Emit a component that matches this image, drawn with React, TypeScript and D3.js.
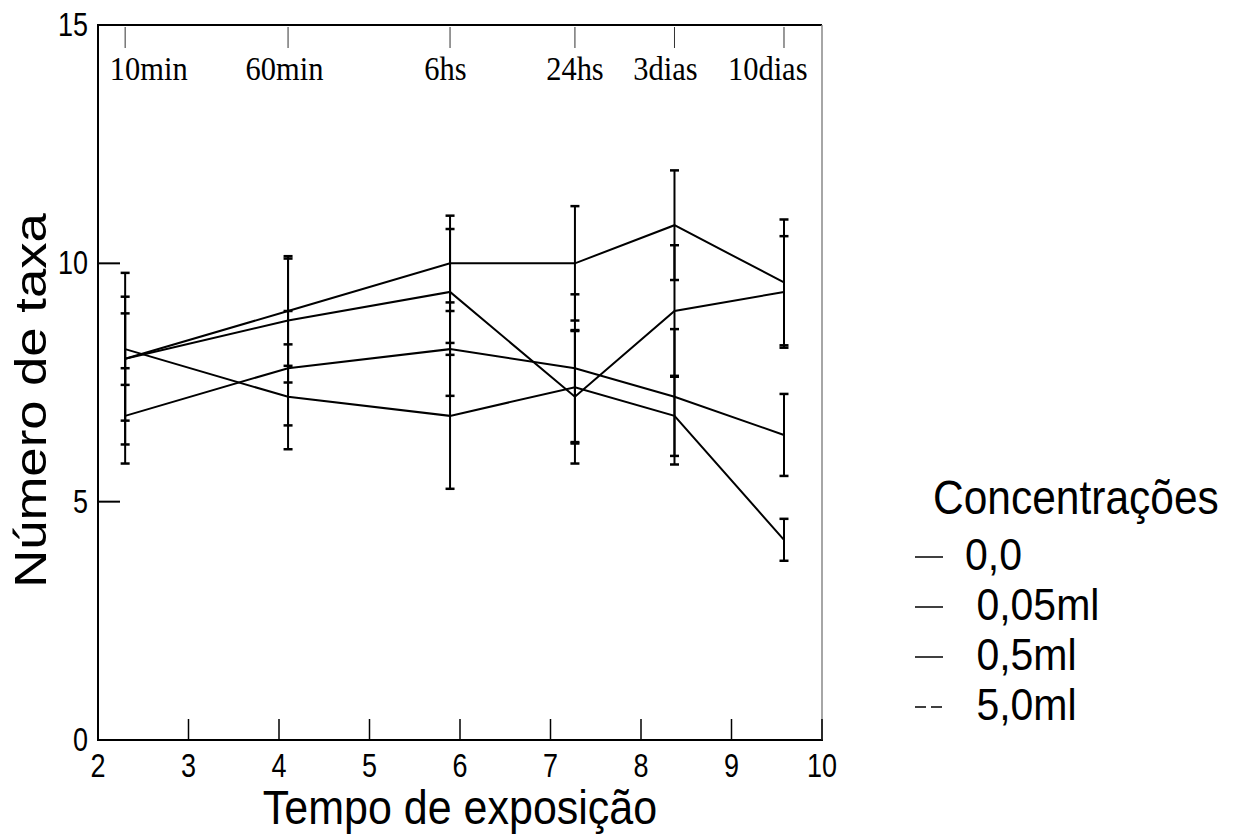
import React from 'react';
import * as d3 from 'd3';

// exposure times (x is log of minutes)
const timeLabels = ['10min', '60min', '6hs', '24hs', '3dias', '10dias'];
const timeX = [2.3, 4.1, 5.89, 7.27, 8.37, 9.58];
const timeLabelX = [2.56, 4.06, 5.84, 7.27, 8.27, 9.4];

const seriesNames = ['0,0', ' 0,05ml', ' 0,5ml', ' 5,0ml'];
const meanA = [8.0, 9.0, 10.0, 10.0, 10.8, 9.6];
const errA = [1.3, 1.15, 1.0, 1.2, 1.15, 1.32];
const meanB = [8.0, 8.8, 9.4, 7.2, 9.0, 9.4];
const errB = [1.8, 1.3, 1.32, 1.4, 1.38, 1.17];
const meanC = [6.8, 7.8, 8.2, 7.8, 7.2, 6.4];
const errC = [1.0, 1.2, 0.98, 1.55, 1.42, 0.86];
const meanD = [8.2, 7.2, 6.8, 7.4, 6.8, 4.2];
const errD = [0.75, 1.1, 1.53, 1.18, 0.84, 0.44];

const xTicks = [2, 3, 4, 5, 6, 7, 8, 9, 10];
const yTicks = [0, 5, 10, 15];

const W = 1234;
const H = 837;
const left = 98;
const right = 822;
const top = 25;
const bottom = 740;
const sans = '"Liberation Sans", Arial, sans-serif';
const serif = '"Liberation Serif", "Times New Roman", serif';

const Stretch = ({ x, y, k, children, ...rest }: any) => (
  <text transform={`translate(${x},${y}) scale(1,${k})`} {...rest}>
    {children}
  </text>
);

export default function App() {
  const x = d3.scaleLinear().domain([2, 10]).range([left, right]);
  const y = d3.scaleLinear().domain([0, 15]).range([bottom, top]);

  const series = [
    { name: seriesNames[0], mean: meanA, err: errA, dash: null },
    { name: seriesNames[1], mean: meanB, err: errB, dash: null },
    { name: seriesNames[2], mean: meanC, err: errC, dash: null },
    { name: seriesNames[3], mean: meanD, err: errD, dash: '11,5' },
  ];

  const line = d3
    .line<number>()
    .x((_, i) => x(timeX[i]))
    .y((d) => y(d));

  return (
    <svg width={W} height={H} style={{ position: 'absolute', left: 0, top: 0, background: '#fff' }}>
      {/* frame */}
      <line x1={left} x2={left} y1={top - 1} y2={bottom + 1} stroke="#000" strokeWidth={2} />
      <line x1={left - 1} x2={right} y1={top} y2={top} stroke="#000" strokeWidth={2} />
      <line x1={left - 1} x2={right + 1} y1={bottom} y2={bottom} stroke="#000" strokeWidth={2} />
      <line x1={right} x2={right} y1={top} y2={bottom} stroke="#888" strokeWidth={1.5} />

      {/* y ticks */}
      {yTicks.map((t) => (
        <g key={'y' + t}>
          <line x1={left} x2={left + 22} y1={y(t)} y2={y(t)} stroke="#000" strokeWidth={2} />
          <Stretch x={left - 10} y={y(t) + 11} k={1.2} textAnchor="end" fontFamily={sans} fontSize={27}>
            {t}
          </Stretch>
        </g>
      ))}

      {/* x ticks */}
      {xTicks.map((t) => (
        <g key={'x' + t}>
          <line x1={x(t)} x2={x(t)} y1={bottom} y2={bottom - 21} stroke="#000" strokeWidth={1.5} />
          <Stretch x={x(t)} y={bottom + 37} k={1.2} textAnchor="middle" fontFamily={sans} fontSize={27}>
            {t}
          </Stretch>
        </g>
      ))}

      {/* time markers on top */}
      {timeX.map((t, i) => (
        <g key={'t' + i}>
          <line x1={x(t)} x2={x(t)} y1={top + 2} y2={top + 23} stroke="#333" strokeWidth={1} />
          <Stretch x={x(timeLabelX[i])} y={80} k={1.12} textAnchor="middle" fontFamily={serif} fontSize={30.5}>
            {timeLabels[i]}
          </Stretch>
        </g>
      ))}

      {/* error bars */}
      {series.map((s, si) => (
        <g key={'e' + si} stroke="#000" strokeWidth={2}>
          {s.mean.map((m, i) => {
            const cx = x(timeX[i]);
            const hi = y(m + s.err[i]);
            const lo = y(m - s.err[i]);
            return (
              <g key={i}>
                <line x1={cx} x2={cx} y1={hi} y2={lo} />
                <line x1={cx - 4.5} x2={cx + 4.5} y1={hi} y2={hi} strokeWidth={2.5} />
                <line x1={cx - 4.5} x2={cx + 4.5} y1={lo} y2={lo} strokeWidth={2.5} />
              </g>
            );
          })}
        </g>
      ))}

      {/* lines */}
      {series.map((s, si) => (
        <path key={'l' + si} d={line(s.mean) || ''} fill="none" stroke="#000" strokeWidth={2} />
      ))}

      {/* axis titles */}
      <Stretch x={(left + right) / 2} y={824} k={1.1} textAnchor="middle" fontFamily={sans} fontSize={43}>
        Tempo de exposição
      </Stretch>
      <text
        transform={`translate(46,${(top + bottom) / 2 + 18}) scale(1,1.17) rotate(-90)`}
        textAnchor="middle"
        fontFamily={sans}
        fontSize={45}
      >
        Número de taxa
      </text>

      {/* legend */}
      <Stretch x={933} y={514} k={1.15} fontFamily={sans} fontSize={42.5}>
        Concentrações
      </Stretch>
      {series.map((s, i) => (
        <g key={'lg' + i}>
          <line
            x1={915}
            x2={943}
            y1={557 + i * 50}
            y2={557 + i * 50}
            stroke="#000"
            strokeWidth={1.5}
            strokeDasharray={s.dash || undefined}
          />
          <Stretch x={965} y={570 + i * 50} k={1.08} fontFamily={sans} fontSize={41} style={{ whiteSpace: 'pre' }}>
            {s.name}
          </Stretch>
        </g>
      ))}
    </svg>
  );
}
